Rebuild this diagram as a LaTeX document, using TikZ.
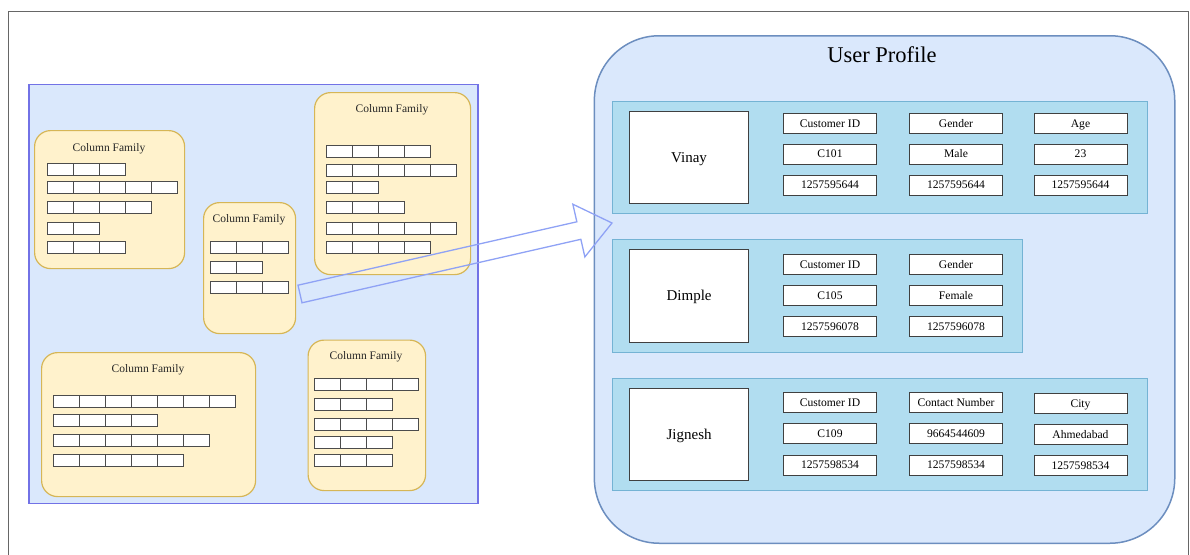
\documentclass[tikz,border=0pt]{standalone}
\usepackage{fontspec}
\setmainfont{Liberation Serif}
\definecolor{sheet}{HTML}{DAE8FC}
\definecolor{sheetline}{HTML}{7272E6}
\definecolor{cffill}{HTML}{FFF2CC}
\definecolor{cfline}{HTML}{D6B656}
\definecolor{profline}{HTML}{6C8EBF}
\definecolor{rowfill}{HTML}{B1DDF0}
\definecolor{rowline}{HTML}{74B3D4}
\definecolor{arrowline}{HTML}{8FA2F5}
\tikzset{
  frame/.style={draw=black!60, line width=1pt},
  store/.style={draw=sheetline, fill=sheet, line width=1.4pt},
  cfbox/.style={draw=cfline, fill=cffill, line width=1.2pt, rounded corners=16pt, anchor=north west, inner sep=0pt},
  cftitle/.style={font=\fontsize{11.5}{13}\selectfont, text=black!85, inner sep=0pt, text height=7.6pt, text depth=0pt},
  cfcell/.style={draw=black!70, fill=white, line width=0.7pt},
  profile/.style={draw=profline, fill=sheet, line width=1.5pt, rounded corners=65pt, anchor=north west, inner sep=0pt},
  rowpanel/.style={draw=rowline, fill=rowfill, line width=1.1pt, anchor=north west, inner sep=0pt},
  keybox/.style={draw=black!75, fill=white, line width=0.8pt, anchor=north west, inner sep=0pt},
  keyname/.style={font=\fontsize{15}{17}\selectfont, inner sep=0pt, text height=9.9pt, text depth=0pt},
  pcell/.style={draw=black!75, fill=white, line width=0.8pt, minimum width=93pt, minimum height=20pt, inner sep=0pt,
    font=\fontsize{11.6}{13}\selectfont, text height=7.7pt, text depth=0pt},
  flow/.style={draw=arrowline, line width=1.3pt, line join=miter}
}
% a row of n empty cells, top-left corner at (#1,#2)
\newcommand\cfrow[3]{%
  \foreach \k in {1,...,#3}{\draw[cfcell] ({#1+26*(\k-1)},#2) rectangle +(26,12);}}
\begin{document}
\begin{tikzpicture}[x=1pt,y=-1pt]
\useasboundingbox (0,0) rectangle (1190,554);
% page frame
\draw[frame] (8.4,556) -- (8.4,11) -- (1188,11) -- (1188,556);

% ---------- column store ----------
\node[store, anchor=north west, minimum width=449pt, minimum height=419pt, inner sep=0pt] (store) at (28.3,84) {};

\node[cfbox, minimum width=150pt, minimum height=138pt] (cf1) at (34,130) {};
\node[cftitle] (cf1t) at (109,147.3) {Column Family};
\cfrow{47.5}{163.3}{3}
\cfrow{47.5}{181.7}{5}
\cfrow{47.5}{201.7}{4}
\cfrow{47.5}{222.3}{2}
\cfrow{47.5}{241.7}{3}

\node[cfbox, minimum width=92pt, minimum height=131pt] (cf2) at (203,202) {};
\node[cftitle] (cf2t) at (249,219) {Column Family};
\cfrow{210}{241.7}{3}
\cfrow{210}{261.7}{2}
\cfrow{210}{281.7}{3}

\node[cfbox, minimum width=156pt, minimum height=182pt] (cf3) at (314,92) {};
\node[cftitle] (cf3t) at (392,108.3) {Column Family};
\cfrow{326.7}{145.7}{4}
\cfrow{326.7}{164}{5}
\cfrow{326.7}{181.7}{2}
\cfrow{326.7}{201}{3}
\cfrow{326.7}{222.7}{5}
\cfrow{326.7}{241.7}{4}

\node[cfbox, minimum width=214pt, minimum height=144pt] (cf4) at (41,352) {};
\node[cftitle] (cf4t) at (148,368.7) {Column Family};
\cfrow{53.6}{395}{7}
\cfrow{53.6}{414.3}{4}
\cfrow{53.6}{434.7}{6}
\cfrow{53.6}{454}{5}

\node[cfbox, minimum width=117.5pt, minimum height=150.5pt] (cf5) at (307.5,339.5) {};
\node[cftitle] (cf5t) at (366,356) {Column Family};
\cfrow{314.2}{378.3}{4}
\cfrow{314.2}{398}{3}
\cfrow{314.2}{418}{4}
\cfrow{314.2}{436.7}{3}
\cfrow{314.2}{454}{3}

% ---------- user profile ----------
\node[profile, minimum width=580.4pt, minimum height=507.5pt] (prof) at (593.6,35) {};
\node[font=\fontsize{22.5}{26}\selectfont, inner sep=0pt, text height=14.8pt, text depth=0pt] (proft) at (882,55) {User Profile};

% Vinay
\node[rowpanel, minimum width=534.7pt, minimum height=111.7pt] (rv) at (612.3,101) {};
\node[keybox, minimum width=118.6pt, minimum height=92.6pt] (kv) at (629.4,110.7) {};
\node[keyname] at (kv.center) {Vinay};
\node[pcell] (v11) at (830,123.3) {Customer ID};
\node[pcell] (v12) at (956,123.3) {Gender};
\node[pcell] (v13) at (1080.5,123.3) {Age};
\node[pcell] (v21) at (830,154) {C101};
\node[pcell] (v22) at (956,154) {Male};
\node[pcell] (v23) at (1080.5,154) {23};
\node[pcell] (v31) at (830,185) {1257595644};
\node[pcell] (v32) at (956,185) {1257595644};
\node[pcell] (v33) at (1080.5,185) {1257595644};

% Dimple
\node[rowpanel, minimum width=409.3pt, minimum height=112.4pt] (rd) at (612.3,239.3) {};
\node[keybox, minimum width=118.6pt, minimum height=92.4pt] (kd) at (629.4,249.3) {};
\node[keyname] at (kd.center) {Dimple};
\node[pcell] (d11) at (830,264.2) {Customer ID};
\node[pcell] (d12) at (956,264.2) {Gender};
\node[pcell] (d21) at (830,295.3) {C105};
\node[pcell] (d22) at (956,295.3) {Female};
\node[pcell] (d31) at (830,326.3) {1257596078};
\node[pcell] (d32) at (956,326.3) {1257596078};

% Jignesh
\node[rowpanel, minimum width=534.7pt, minimum height=112.3pt] (rj) at (612.3,377.7) {};
\node[keybox, minimum width=118.6pt, minimum height=92.3pt] (kj) at (629.4,387.7) {};
\node[keyname] at (kj.center) {Jignesh};
\node[pcell] (j11) at (830,402.8) {Customer ID};
\node[pcell] (j12) at (956,402.8) {Contact Number};
\node[pcell] (j13) at (1080.5,403.6) {City};
\node[pcell] (j21) at (830,433.7) {C109};
\node[pcell] (j22) at (956,433.7) {9664544609};
\node[pcell] (j23) at (1080.5,434.5) {Ahmedabad};
\node[pcell] (j31) at (830,465) {1257598534};
\node[pcell] (j32) at (956,465) {1257598534};
\node[pcell] (j33) at (1080.5,465.8) {1257598534};

% ---------- outlined block arrow from the store to the profile ----------
\coordinate (tailA) at (298,285.2);
\coordinate (tailB) at (302,302.8);
\coordinate (tip) at (612,223);
\draw[flow] (tailA) -- (576.85,221.8) -- (572.85,204.2) -- (tip)
  -- (584.85,256.9) -- (580.85,239.3) -- (tailB) -- cycle;
\end{tikzpicture}
\end{document}
